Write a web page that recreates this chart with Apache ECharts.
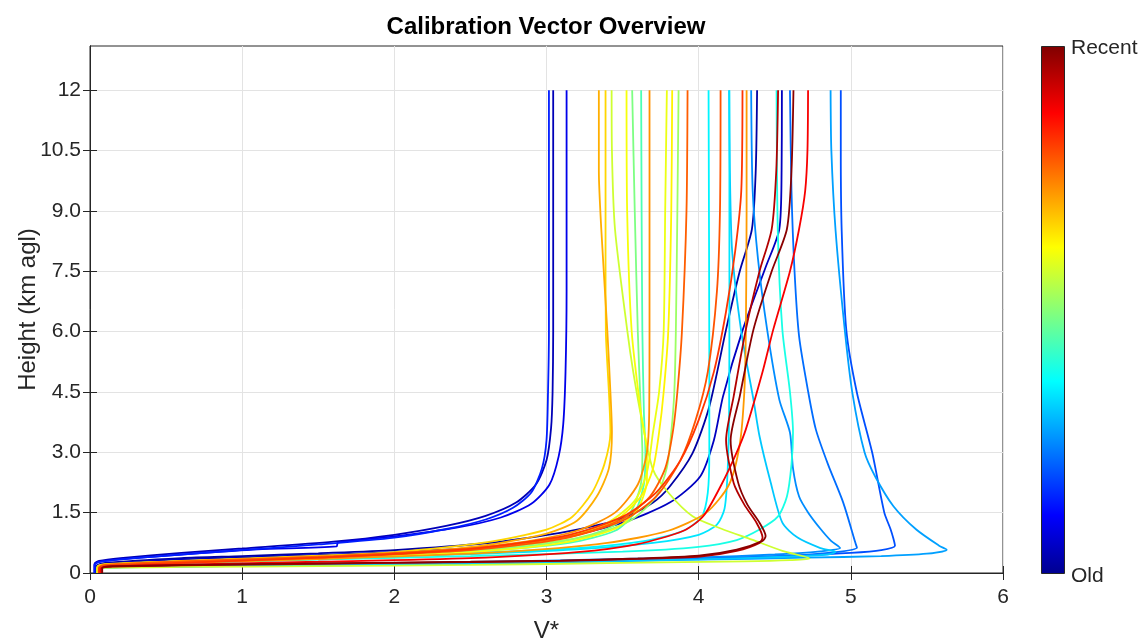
<!DOCTYPE html>
<html>
<head>
<meta charset="utf-8">
<script src="https://cdn.jsdelivr.net/npm/echarts@6/dist/echarts.min.js"></script>
<style>html,body{margin:0;padding:0;background:#fff}#c{width:1144px;height:640px}</style>
</head>
<body>
<div id="c"></div>
<script>
// ---------- data: profiles as [V*, height km] pairs, oldest first ----------
const xTickValues = [0, 1, 2, 3, 4, 5, 6];
const xTickLabels = ['0','1','2','3','4','5','6'];
const yTickValues = [0, 1.5, 3, 4.5, 6, 7.5, 9, 10.5, 12];
const yTickLabels = ['0','1.5','3.0','4.5','6.0','7.5','9.0','10.5','12'];

const curveNV1 = [[0.04,0],[0.04,0.17],[0.1,0.25],[0.6,0.37],[1.0,0.42],[1.5,0.49],[2.0,0.57],[2.6,0.74],[3.09,1.0],[3.35,1.2],[3.53,1.41],[3.7,1.75],[3.81,2.15],[3.96,2.98],[4.07,4.14],[4.18,6.05],[4.27,7.5],[4.35,8.55],[4.375,10],[4.384,12]];
const curveB2 = [[0.03,0],[0.03,0.23],[0.06,0.3],[0.2,0.37],[0.6,0.5],[1.0,0.61],[1.6,0.78],[2.0,0.95],[2.34,1.17],[2.6,1.42],[2.8,1.75],[2.93,2.2],[3.0,2.8],[3.03,3.6],[3.04,4.5],[3.044,6.0],[3.044,12]];
const curveNV2 = [[0.04,0],[0.04,0.16],[0.1,0.23],[0.6,0.34],[1.0,0.39],[1.5,0.45],[2.0,0.52],[2.6,0.64],[3.09,0.87],[3.5,1.25],[3.81,1.75],[4.01,2.4],[4.1,3.3],[4.16,4.39],[4.29,6.05],[4.44,7.6],[4.53,8.55],[4.545,10],[4.547,12]];
const curveB3 = [[0.03,0],[0.03,0.21],[0.06,0.28],[0.2,0.34],[0.6,0.46],[1.1,0.59],[1.62,0.66],[1.63,0.76],[2.0,0.91],[2.4,1.12],[2.7,1.38],[2.9,1.72],[3.02,2.2],[3.08,2.9],[3.11,3.7],[3.125,5.0],[3.132,7.0],[3.132,12]];
const curveB1 = [[0.03,0],[0.03,0.2],[0.06,0.27],[0.2,0.34],[0.6,0.46],[1.0,0.57],[1.5,0.71],[2.0,0.88],[2.35,1.1],[2.6,1.33],[2.78,1.62],[2.9,2.0],[2.97,2.6],[3.0,3.3],[3.01,4.5],[3.016,6.0],[3.016,12]];
const curveN2 = [[0.05,0],[0.05,0.11],[0.1,0.15],[0.6,0.18],[1.2,0.2],[2.0,0.23],[3.0,0.29],[4.0,0.36],[4.66,0.44],[5.0,0.5],[5.2,0.57],[5.29,0.68],[5.28,0.85],[5.26,1.1],[5.22,1.5],[5.14,3.0],[5.04,4.48],[4.97,6.05],[4.94,8.5],[4.934,10.5],[4.934,12]];
const curveN3 = [[0.05,0],[0.05,0.1],[0.1,0.14],[0.6,0.17],[1.2,0.19],[2.0,0.22],[3.0,0.28],[4.0,0.35],[4.6,0.43],[4.9,0.52],[5.04,0.63],[5.03,0.75],[4.95,1.75],[4.85,2.7],[4.77,3.57],[4.72,4.5],[4.66,5.88],[4.63,7.5],[4.61,9.5],[4.60,12]];
const curveN4 = [[0.05,0],[0.05,0.11],[0.1,0.15],[0.6,0.18],[1.2,0.21],[2.0,0.24],[3.0,0.31],[4.0,0.39],[4.5,0.46],[4.8,0.54],[4.93,0.62],[4.87,0.8],[4.8,1.1],[4.72,1.5],[4.66,1.9],[4.62,2.6],[4.6,3.49],[4.53,4.31],[4.45,6.05],[4.39,7.8],[4.355,9.5],[4.345,12]];
const curveN1 = [[0.05,0],[0.05,0.1],[0.1,0.14],[0.6,0.16],[1.2,0.18],[2.0,0.2],[3.0,0.26],[4.0,0.33],[4.7,0.38],[5.2,0.42],[5.5,0.48],[5.63,0.58],[5.58,0.68],[5.43,1.08],[5.28,1.66],[5.16,2.4],[5.09,3.0],[5.01,4.48],[4.96,6.05],[4.9,8.5],[4.872,10.5],[4.867,12]];
const curveCY1 = [[0.05,0],[0.05,0.1],[0.1,0.13],[0.6,0.16],[1.2,0.18],[2.0,0.21],[3.0,0.27],[4.0,0.34],[4.6,0.41],[4.85,0.46],[4.9,0.52],[4.8,0.62],[4.65,0.88],[4.55,1.25],[4.47,2.3],[4.4,3.4],[4.36,4.31],[4.28,6.0],[4.22,8.0],[4.205,10],[4.2,12]];
const curveCY2 = [[0.05,0],[0.05,0.14],[0.1,0.2],[0.6,0.27],[1.5,0.36],[2.5,0.47],[3.2,0.59],[3.7,0.75],[4.0,0.95],[4.12,1.2],[4.17,1.6],[4.19,2.5],[4.2,4.0],[4.202,7],[4.202,12]];
const curveCY3 = [[0.05,0],[0.05,0.15],[0.1,0.21],[0.6,0.28],[1.5,0.38],[2.5,0.5],[3.2,0.62],[3.65,0.8],[3.9,1.05],[4.02,1.4],[4.06,2.0],[4.07,3.0],[4.07,5.0],[4.065,12]];
const curveCYd = [[0.05,0],[0.05,0.13],[0.1,0.19],[0.6,0.25],[1.5,0.33],[2.5,0.42],[3.5,0.53],[4.0,0.65],[4.25,0.82],[4.4,1.08],[4.52,1.4],[4.58,1.9],[4.61,2.7],[4.62,3.5],[4.6,4.5],[4.55,6.05],[4.52,8.5],[4.512,12]];
const curveG2 = [[0.05,0],[0.05,0.14],[0.1,0.19],[0.6,0.27],[1.5,0.37],[2.5,0.53],[3.15,0.75],[3.45,1.05],[3.58,1.5],[3.64,2.2],[3.65,3.0],[3.64,4.0],[3.63,6.0],[3.625,9],[3.622,12]];
const curveG1 = [[0.05,0],[0.05,0.15],[0.1,0.2],[0.6,0.28],[1.5,0.39],[2.5,0.55],[3.1,0.78],[3.4,1.1],[3.55,1.5],[3.62,2.2],[3.63,3.0],[3.62,4.0],[3.6,6.0],[3.58,9],[3.563,12]];
const curveG3 = [[0.05,0],[0.05,0.14],[0.1,0.2],[0.6,0.28],[1.6,0.41],[2.6,0.6],[3.25,0.9],[3.55,1.3],[3.72,1.9],[3.79,2.6],[3.82,3.5],[3.84,4.5],[3.85,6.0],[3.86,9],[3.868,12]];
const curveYG1 = [[0.05,0],[0.05,0.1],[0.1,0.13],[0.6,0.15],[1.5,0.17],[2.5,0.2],[3.5,0.25],[4.3,0.29],[4.6,0.32],[4.73,0.36],[4.55,0.55],[4.35,0.83],[4.15,1.1],[3.96,1.41],[3.8,2.0],[3.7,2.57],[3.63,3.73],[3.57,5.0],[3.53,6.05],[3.45,8.55],[3.43,10.5],[3.428,12]];
const curveY3 = [[0.05,0],[0.05,0.15],[0.1,0.21],[0.6,0.29],[1.5,0.4],[2.5,0.6],[3.1,0.88],[3.4,1.25],[3.58,1.8],[3.66,2.5],[3.7,3.5],[3.74,4.5],[3.77,6.0],[3.78,9],[3.791,12]];
const curveY2 = [[0.05,0],[0.05,0.14],[0.1,0.2],[0.6,0.27],[1.5,0.37],[2.5,0.52],[3.1,0.75],[3.45,1.1],[3.6,1.6],[3.66,2.3],[3.66,3.0],[3.62,4.0],[3.56,6.0],[3.53,9],[3.526,12]];
const curveY4 = [[0.05,0],[0.05,0.15],[0.1,0.21],[0.6,0.29],[1.5,0.41],[2.5,0.6],[3.15,0.9],[3.45,1.3],[3.62,1.9],[3.7,2.6],[3.74,3.5],[3.77,4.5],[3.8,6.0],[3.82,9],[3.826,12]];
const curveY1 = [[0.05,0],[0.05,0.16],[0.1,0.22],[0.6,0.3],[1.5,0.43],[2.0,0.52],[2.6,0.76],[3.0,1.08],[3.17,1.4],[3.3,2.0],[3.38,2.7],[3.42,3.5],[3.41,4.5],[3.39,6.0],[3.388,8],[3.388,12]];
const curveO1 = [[0.06,0],[0.06,0.15],[0.1,0.21],[0.6,0.29],[1.5,0.41],[2.0,0.48],[2.6,0.69],[3.0,0.98],[3.2,1.3],[3.33,1.9],[3.41,2.6],[3.43,3.5],[3.42,4.5],[3.4,6.0],[3.36,8.55],[3.344,10],[3.344,12]];
const curveO6 = [[0.06,0],[0.06,0.12],[0.1,0.17],[0.6,0.25],[1.6,0.36],[2.7,0.52],[3.4,0.75],[3.8,1.05],[4.05,1.5],[4.2,2.2],[4.27,3.2],[4.3,4.5],[4.31,6.0],[4.315,9],[4.315,12]];
const curveO2 = [[0.06,0],[0.06,0.13],[0.1,0.19],[0.6,0.27],[1.4,0.37],[2.2,0.52],[2.8,0.75],[3.2,1.05],[3.45,1.5],[3.6,2.2],[3.66,3.0],[3.675,4.0],[3.677,6.0],[3.677,12]];
const curveO3 = [[0.06,0],[0.06,0.14],[0.1,0.2],[0.6,0.29],[1.6,0.42],[2.6,0.64],[3.2,0.95],[3.5,1.35],[3.68,1.9],[3.78,2.6],[3.83,3.5],[3.86,4.5],[3.89,6.0],[3.92,9],[3.927,12]];
const curveO4 = [[0.06,0],[0.06,0.12],[0.1,0.18],[0.6,0.26],[1.5,0.38],[2.5,0.57],[3.1,0.85],[3.5,1.3],[3.72,1.9],[3.88,2.8],[3.98,3.8],[4.06,5.0],[4.12,7.0],[4.14,9],[4.144,12]];
const curveO5 = [[0.06,0],[0.06,0.12],[0.1,0.17],[0.6,0.25],[1.5,0.38],[2.5,0.6],[3.15,0.95],[3.5,1.4],[3.72,2.0],[3.88,2.8],[4.0,3.8],[4.1,5.0],[4.18,6.5],[4.24,8.0],[4.28,9.5],[4.288,12]];
const curveR1 = [[0.07,0],[0.07,0.1],[0.12,0.16],[0.6,0.21],[1.5,0.28],[2.5,0.37],[3.2,0.52],[3.6,0.72],[3.9,1.05],[4.03,1.41],[4.15,2.2],[4.25,3.0],[4.31,3.57],[4.42,5.0],[4.49,6.05],[4.6,7.5],[4.66,8.55],[4.7,9.5],[4.715,10.5],[4.719,12]];
const curveDR1 = [[0.08,0],[0.08,0.12],[0.15,0.16],[0.6,0.19],[1.5,0.23],[2.5,0.27],[3.09,0.3],[3.6,0.35],[4.01,0.41],[4.25,0.55],[4.4,0.75],[4.42,0.88],[4.38,1.25],[4.3,1.7],[4.23,2.24],[4.18,3.3],[4.23,4.39],[4.31,6.05],[4.4,7.5],[4.48,8.55],[4.51,10],[4.522,12]];
const curveDR2 = [[0.08,0],[0.08,0.13],[0.15,0.17],[0.6,0.2],[1.5,0.24],[2.5,0.28],[3.09,0.31],[3.6,0.36],[4.0,0.43],[4.25,0.58],[4.42,0.8],[4.44,0.92],[4.4,1.25],[4.32,1.7],[4.26,2.24],[4.21,3.3],[4.27,4.39],[4.36,6.05],[4.48,7.5],[4.58,8.55],[4.61,10],[4.623,12]];

// relative age of each profile (0 = Old, 1 = Recent), same order as profiles
const profiles = [curveNV1, curveB2, curveNV2, curveB3, curveB1, curveN2, curveN3, curveN4, curveN1, curveCY1, curveCY2, curveCY3, curveCYd, curveG2, curveG1, curveG3, curveYG1, curveY3, curveY2, curveY4, curveY1, curveO1, curveO6, curveO2, curveO3, curveO4, curveO5, curveR1, curveDR1, curveDR2];
const ages     = [0.02, 0.04, 0.05, 0.09, 0.14, 0.19, 0.22, 0.25, 0.27, 0.31, 0.34, 0.355, 0.39, 0.44, 0.49, 0.52, 0.57, 0.60, 0.61, 0.63, 0.66, 0.70, 0.72, 0.73, 0.78, 0.79, 0.82, 0.88, 0.95, 0.99];

// jet colormap stops
const jetStops = [[0, [0,0,143]], [0.111, [0,0,255]], [0.365, [0,255,255]], [0.619, [255,255,0]], [0.873, [255,0,0]], [1, [128,0,0]]];
function jet(t) {
  for (let i = 1; i < jetStops.length; i++) {
    if (t <= jetStops[i][0]) {
      const a = jetStops[i-1], b = jetStops[i];
      const f = (t - a[0]) / (b[0] - a[0]);
      const c = a[1].map((v, k) => Math.round(v + (b[1][k] - v) * f));
      return 'rgb(' + c.join(',') + ')';
    }
  }
  return 'rgb(128,0,0)';
}

const chart = echarts.init(document.getElementById('c'), null, {renderer: 'canvas'});
const FONT = 'Liberation Sans, Arial, sans-serif';
const axisColor = '#262626';
const gridColor = '#e3e3e3';

const series = profiles.map((pts, i) => ({
  type: 'line',
  data: pts,
  xAxisIndex: 0, yAxisIndex: 0,
  showSymbol: false,
  smooth: 0.25,
  lineStyle: { color: jet(ages[i]), width: 1.8 },
  silent: true,
  z: 2 + i
}));

const yFmt = v => { const k = yTickValues.indexOf(v); return k >= 0 ? yTickLabels[k] : ''; };
const xFmt = v => { const k = xTickValues.indexOf(v); return k >= 0 ? xTickLabels[k] : ''; };

const option = {
  animation: false,
  backgroundColor: '#ffffff',
  title: {
    text: 'Calibration Vector Overview',
    left: 546, top: 15, padding: 0, textAlign: 'center',
    textStyle: { fontFamily: FONT, fontSize: 24, fontWeight: 'bold', color: '#000' }
  },
  grid: { left: 90, right: 141, top: 46, bottom: 67, show: true, borderColor: axisColor, borderWidth: 1, backgroundColor: 'transparent', outerBoundsMode: 'none', containLabel: false },
  xAxis: [{
    type: 'value', min: 0, max: 6, interval: 1,
    name: 'V*', nameLocation: 'middle', nameGap: 46, nameMoveOverlap: false,
    nameTextStyle: { fontFamily: FONT, fontSize: 24, color: axisColor },
    axisLine: { show: true, lineStyle: { color: axisColor, width: 1 } },
    axisTick: { show: true, inside: true, length: 7, lineStyle: { color: axisColor } },
    axisLabel: { fontFamily: FONT, fontSize: 21, color: axisColor, margin: 14, formatter: xFmt },
    splitLine: { show: true, lineStyle: { color: gridColor, width: 1 } }
  }, {
    type: 'value', min: 0, max: 6, interval: 1, position: 'top',
    axisLine: { show: true, lineStyle: { color: axisColor } },
    axisTick: { show: true, inside: true, length: 7, lineStyle: { color: axisColor } },
    axisLabel: { show: false }, splitLine: { show: false }
  }],
  yAxis: [{
    type: 'value', min: 0, max: 13.1, interval: 1.5,
    name: 'Height (km agl)', nameLocation: 'middle', nameGap: 50, nameRotate: 90, nameMoveOverlap: false,
    nameTextStyle: { fontFamily: FONT, fontSize: 24, color: axisColor },
    axisLine: { show: true, lineStyle: { color: axisColor, width: 1 } },
    axisTick: { show: true, inside: true, length: 7, lineStyle: { color: axisColor }, customValues: yTickValues },
    axisLabel: { fontFamily: FONT, fontSize: 21, color: axisColor, margin: 9, formatter: yFmt, customValues: yTickValues },
    splitLine: { show: true, lineStyle: { color: gridColor, width: 1 } }
  }, {
    type: 'value', min: 0, max: 13.1, interval: 1.5, position: 'right',
    axisLine: { show: true, lineStyle: { color: axisColor } },
    axisTick: { show: true, inside: true, length: 7, lineStyle: { color: axisColor }, customValues: yTickValues },
    axisLabel: { show: false }, splitLine: { show: false }
  }],
  series: series,
  graphic: [
    {
      type: 'rect', left: 1041, top: 46,
      shape: { width: 23, height: 527 },
      style: {
        fill: new echarts.graphic.LinearGradient(0, 1, 0, 0, jetStops.map(s => ({ offset: s[0], color: 'rgb(' + s[1].join(',') + ')' }))),
        stroke: axisColor, lineWidth: 1
      },
      z: 10
    },
    { type: 'text', left: 1071, top: 38, style: { text: 'Recent', fontFamily: FONT, fontSize: 21, fill: axisColor }, z: 10 },
    { type: 'text', left: 1071, top: 566, style: { text: 'Old', fontFamily: FONT, fontSize: 21, fill: axisColor }, z: 10 }
  ]
};
chart.setOption(option);
</script>
</body>
</html>
